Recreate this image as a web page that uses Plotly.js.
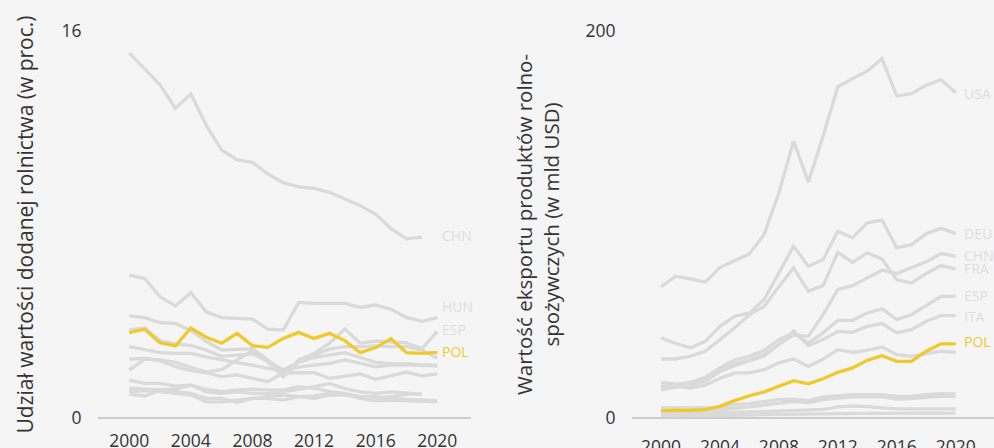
<!DOCTYPE html>
<html>
<head>
<meta charset="utf-8">
<script src="https://cdn.plot.ly/plotly-3.0.1.min.js"></script>
<style>
  html, body { margin: 0; padding: 0; background: #f5f5f5; }
  #chart { width: 994px; height: 448px; }
</style>
</head>
<body>
<div id="chart"></div>
<script>
// ---------- DATA ----------
const years = [2000,2001,2002,2003,2004,2005,2006,2007,2008,2009,2010,2011,2012,2013,2014,2015,2016,2017,2018,2019,2020];

// Left panel: agriculture value added share (%)
const leftCHN = [15.1,14.43,13.77,12.8,13.4,12.1,11.08,10.67,10.57,10.09,9.73,9.56,9.49,9.33,9.04,8.78,8.43,7.83,7.41,7.48,null];
const leftHUN = [5.91,5.77,5.01,4.63,5.18,4.39,4.15,4.12,4.09,3.67,3.64,4.78,4.74,4.74,4.74,4.57,4.67,4.49,4.16,4.0,4.15];
const leftESP = [4.22,4.15,3.94,3.91,3.61,3.16,2.81,2.84,2.87,2.4,1.75,2.4,2.67,3.09,3.68,3.09,3.18,3.15,3.11,2.87,3.57];
const leftPOL = [3.53,3.67,3.11,2.98,3.72,3.34,3.09,3.5,2.99,2.92,3.29,3.54,3.29,3.5,3.2,2.7,2.91,3.28,2.7,2.67,2.71];
const leftOther1 = [3.64,3.72,3.2,3.05,3.0,2.8,2.55,2.6,2.65,2.35,2.0,2.3,2.6,2.85,2.95,2.95,2.98,2.95,2.95,2.81,2.47];
const leftOther2 = [2.95,2.84,2.7,2.67,2.67,2.53,2.4,2.29,2.19,2.05,1.96,2.1,2.19,2.26,2.4,2.26,2.12,2.19,2.19,2.19,2.19];
const leftOther3 = [2.43,2.47,2.36,2.12,1.96,1.87,1.71,1.78,1.64,1.5,1.87,1.87,1.87,1.64,1.74,1.82,1.6,1.74,1.9,1.74,1.82];
const leftOther4 = [1.98,2.43,2.4,2.3,2.1,1.9,2.0,2.4,2.8,2.3,1.7,2.3,2.5,2.6,2.7,2.5,2.3,2.25,2.25,2.2,2.15];
const leftOther5 = [1.57,1.43,1.43,1.32,1.36,1.08,1.02,1.08,1.02,1.02,1.08,1.18,1.3,1.43,1.22,1.08,1.02,1.08,1.02,0.99,null];
const leftOther6 = [1.23,1.19,1.16,1.19,1.36,1.19,1.09,1.16,1.19,1.16,1.16,1.3,1.23,1.09,1.02,0.88,0.88,0.81,0.77,0.74,0.71];
const leftOther7 = [1.09,1.13,1.09,1.02,0.95,0.67,0.67,0.74,0.81,0.88,0.95,0.88,0.91,1.02,0.99,0.81,0.71,0.74,0.71,0.67,0.67];
const leftOther8 = [0.99,0.91,1.16,1.09,1.02,0.81,0.81,0.64,0.81,0.81,0.74,0.88,0.81,0.95,0.95,0.88,0.81,0.88,0.99,0.99,null];

// Right panel: agri-food exports (bn USD)
const rightUSA = [67.8,73.3,71.9,70.2,77.9,81.5,84.8,94.8,116.4,143.1,121.9,145.7,171.2,175.4,179.3,185.7,166.4,167.6,172,174.8,168.1];
const rightDEU = [41.4,38.5,36.3,39.6,47.4,52.6,54.3,61.2,75,88.8,78.4,81.9,96.5,93.1,100.9,102.3,87.9,89.6,95.2,98,95.3];
const rightFRA = [30.5,30.5,31.9,34.5,40.5,46.6,53.4,57.7,67.8,77.6,65.5,68.4,85.7,80.3,85.4,82.2,71.4,69.8,74.7,78.8,77.1];
const rightCHN = [14.5,16,17,19,24,27,29.5,32,38,43,42.2,53.4,66.4,68.4,72.4,76.4,74.7,77.6,80.7,85,83.6];
const rightESP = [16.5,17,18.5,21,26,30,32,35,40.5,44,38.8,44,50.5,50.5,54.3,56.4,50.9,53.4,58.1,62.9,62.9];
const rightITA = [18.4,17.5,17.5,19.5,25,28,30,33,38,45,37.4,40.5,44.8,44.3,47.4,48.8,44,45.7,50,52.9,52.9];
const rightPOL = [3.8,3.8,4,4.3,6,9,11.5,13.5,16.5,19.3,17.7,20.3,23.6,25.9,29.8,32.2,29.3,29.3,34.5,38.3,38.3];
const rightOther1 = [15.5,16.5,15.5,17,20.5,23.3,23.3,25,28.5,30.5,26.7,30.5,35.3,33.9,35,36.7,32.7,31.9,33.3,34.5,33.9];
const rightOther2 = [5.2,5.3,5.6,5.4,5.2,6.9,7.4,8.3,9.5,9.8,9,10.9,11.7,12.1,12.1,12.1,11.2,11.2,12.1,12.6,12.4];
const rightOther3 = [2.6,2.8,3.2,3.5,4.2,5.2,5.8,6.6,7.6,8.6,7.8,9.5,10.3,10.9,10.9,10.9,9.8,10,10.7,11.2,11.2];
const rightOther4 = [2,2.1,2.2,2.3,2.6,2.9,3.1,3.3,3.7,4.1,4.1,4.5,5.7,6.2,5.9,5.2,4.7,4.7,4.7,4.7,4.7];
const rightOther5 = [1.1,1.1,1.2,1.2,1.3,1.4,1.5,1.7,1.9,2.0,1.9,2.1,2.3,2.4,2.4,2.3,2.2,2.3,2.4,2.5,2.5];

// End labels (name, label y value)
const leftLabelNames = ["CHN","HUN","ESP","POL"];
const leftLabelY = [7.56,4.63,3.64,2.74];
const rightLabelNames = ["USA","DEU","CHN","FRA","ESP","ITA","POL"];
const rightLabelY = [167.8,95.3,84.0,77.2,63.3,52.4,39.6];

const leftTicks = [0,16];
const rightTicks = [0,200];
const xTicks = [2000,2004,2008,2012,2016,2020];

// ---------- STYLE ----------
const GRAY = '#dadada';
const YELLOW = '#f0c92c';
const LABELGRAY = '#dedede';
const TEXT = '#333333';
const FONT = '"Open Sans", Lato, sans-serif';

function line(y, xa, ya, color, w) {
  return {x: years, y: y, xaxis: xa, yaxis: ya, type: 'scatter', mode: 'lines',
          line: {color: color, width: w}, hoverinfo: 'skip', showlegend: false, connectgaps: false};
}

const leftGray = [leftCHN, leftHUN, leftESP, leftOther1, leftOther2, leftOther3, leftOther4, leftOther5, leftOther6, leftOther7, leftOther8];
const rightGray = [rightUSA, rightDEU, rightFRA, rightCHN, rightESP, rightITA, rightOther1, rightOther2, rightOther3, rightOther4, rightOther5];

const traces = [];
leftGray.forEach(s => traces.push(line(s, 'x', 'y', GRAY, 3.3)));
traces.push(line(leftPOL, 'x', 'y', YELLOW, 3.3));
rightGray.forEach(s => traces.push(line(s, 'x2', 'y2', GRAY, 3.3)));
traces.push(line(rightPOL, 'x2', 'y2', YELLOW, 3.3));

const annotations = [];
leftLabelNames.forEach((n, i) => annotations.push({
  x: 2020, y: leftLabelY[i], xref: 'x', yref: 'y', text: n, showarrow: false,
  xanchor: 'left', yanchor: 'middle', xshift: 3,
  font: {family: FONT, size: 14, color: n === 'POL' ? YELLOW : LABELGRAY}
}));
rightLabelNames.forEach((n, i) => annotations.push({
  x: 2020, y: rightLabelY[i], xref: 'x2', yref: 'y2', text: n, showarrow: false,
  xanchor: 'left', yanchor: 'middle', xshift: 6,
  font: {family: FONT, size: 14, color: n === 'POL' ? YELLOW : LABELGRAY}
}));

const W = 994, H = 448;
const yDom = [30/H, 1 - 31/H];

const xCommon = {
  tickvals: xTicks, ticktext: xTicks.map(String),
  showgrid: false, zeroline: false, showline: false,
  ticks: 'outside', tickcolor: 'rgba(0,0,0,0)',
  tickfont: {family: FONT, size: 17.5, color: TEXT}
};
const yCommon = {
  showgrid: true, gridcolor: '#b8b8b8', griddash: 'dot', gridwidth: 1,
  zeroline: true, zerolinecolor: '#cccccc', zerolinewidth: 2,
  showline: false, ticks: 'outside', tickcolor: 'rgba(0,0,0,0)', ticklen: 12,
  tickfont: {family: FONT, size: 17.5, color: TEXT}
};

const layout = {
  width: W, height: H,
  paper_bgcolor: '#f5f5f5', plot_bgcolor: '#f5f5f5',
  margin: {l: 0, r: 0, t: 0, b: 0},
  showlegend: false,
  xaxis: Object.assign({}, xCommon, {domain: [98/W, 471/W], range: [1997.97, 2022.19], anchor: 'y', ticklen: 7}),
  yaxis: Object.assign({}, yCommon, {domain: yDom, range: [0, 16], tickvals: leftTicks, anchor: 'x',
    title: {text: 'Udział wartości dodanej rolnictwa (w proc.)', standoff: 22,
            font: {family: FONT, size: 21, color: TEXT}}}),
  xaxis2: Object.assign({}, xCommon, {domain: [632/W, 1], range: [1998.03, 2022.6], anchor: 'y2', ticklen: 13}),
  yaxis2: Object.assign({}, yCommon, {domain: yDom, range: [0, 200], tickvals: rightTicks, anchor: 'x2',
    title: {text: 'Wartość eksportu produktów rolno-<br>spożywczych (w mld USD)', standoff: 20,
            font: {family: FONT, size: 20.5, color: TEXT}}}),
  annotations: annotations
};

Plotly.newPlot('chart', traces, layout, {displayModeBar: false, staticPlot: true});
</script>
</body>
</html>
